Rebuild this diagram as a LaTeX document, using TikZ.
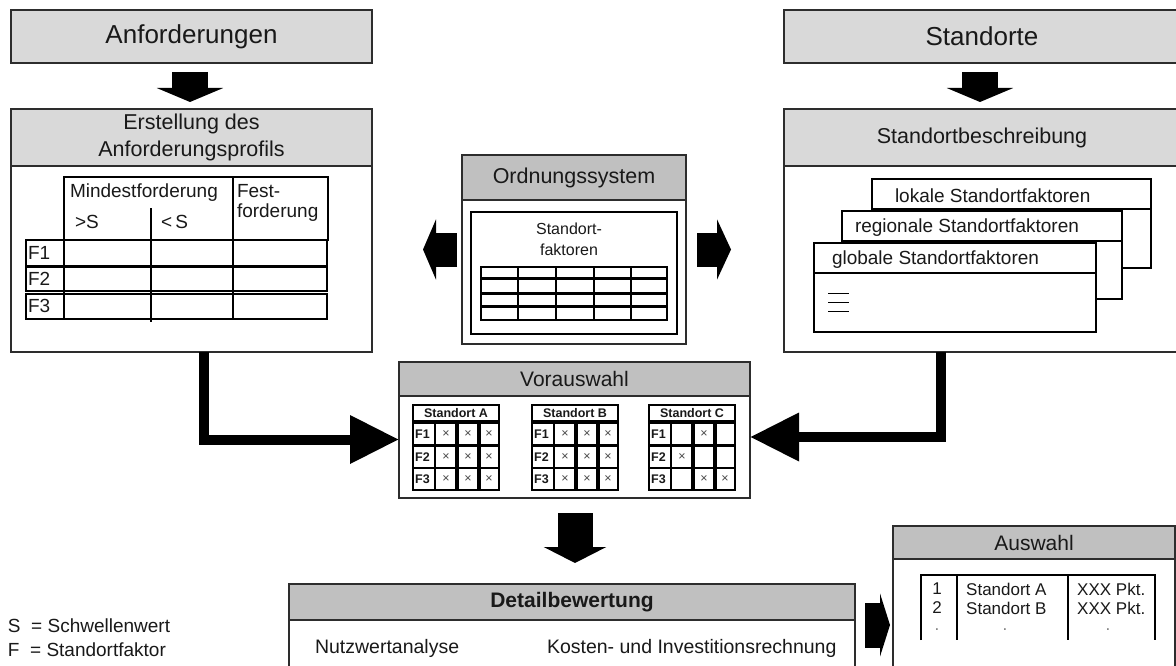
\documentclass[tikz,border=0pt]{standalone}
\usepackage{fontspec}
\setmainfont{Liberation Sans}
\usetikzlibrary{arrows.meta,calc}
\definecolor{hdrlight}{RGB}{217,217,217}
\definecolor{hdr}{RGB}{192,192,192}
\definecolor{frame}{RGB}{45,45,45}
\definecolor{ink}{RGB}{25,25,25}
\newcommand\fsz[2]{\fontsize{#1}{#2}\selectfont}
\begin{document}
\begin{tikzpicture}[x=1pt,y=-1pt,
  panel/.style={draw=frame,line width=1.3pt,fill=white,inner sep=0pt,outer sep=0pt,
                rectangle,anchor=north west,text=ink},
  header/.style={draw=frame,line width=1.3pt,fill=hdr,inner sep=0pt,outer sep=0pt,
                 rectangle,anchor=north,align=center,text=ink,font=\fsz{21.5}{27}},
  lbl/.style={inner sep=0pt,outer sep=0pt,anchor=west,text=ink},
  tbl/.style={draw=black,line width=1.2pt},
  rowbox/.style={draw=black,line width=1.7pt},
  card/.style={draw=black,line width=1.2pt,fill=white},
  vhead/.style={draw=black,line width=1.2pt,inner sep=0pt,outer sep=0pt,anchor=north west,
                minimum width=86pt,minimum height=16pt,font=\bfseries\fsz{12.5}{14},text=ink},
  vcell/.style={draw=black,line width=1.2pt},
  flab/.style={inner sep=0pt,anchor=west,font=\bfseries\fsz{12.5}{14},text=ink},
  xm/.style={inner sep=0pt,font=\fsz{12.5}{14},text=ink!80},
  blkdown/.style={line width=36pt,-{Triangle[length=14pt,width=66pt]}},
  blkside/.style={line width=34pt,-{Triangle[length=13pt,width=60pt]}},
  blkstub/.style={line width=45pt,-{Triangle[length=10pt,width=63pt]}},
  conn/.style={line width=10pt,line join=miter,-{Triangle[length=49pt,width=46pt]}}
]
\useasboundingbox (0,0) rectangle (1176,666);
\clip (0,0) rectangle (1176,666);
\fill[white] (0,0) rectangle (1176,666);

% ---- top boxes ----
\node[panel,fill=hdrlight,minimum width=361pt,minimum height=53pt,font=\fsz{26}{30}] (anf) at (11,10) {Anforderungen};
\node[panel,fill=hdrlight,minimum width=396pt,minimum height=53pt,font=\fsz{26}{30}] (sto) at (784,10) {Standorte};

% ---- requirement profile ----
\node[panel,minimum width=361pt,minimum height=243pt] (erst) at (11,109) {};
\node[header,fill=hdrlight,minimum width=361pt,minimum height=57pt] (erstH) at (erst.north) {Erstellung des\\Anforderungsprofils};
\draw[tbl] (64,177) rectangle (328,240);
\draw[tbl] (233,177) -- (233,319);
\draw[tbl] (151,208) -- (151,322);
\draw[rowbox] (26,240) rectangle (327,266);
\draw[rowbox] (26,267) rectangle (327,291);
\draw[rowbox] (26,294) rectangle (327,319);
\draw[tbl] (64,240) -- (64,319);
\begin{scope}[every node/.style={lbl,font=\fsz{19}{23}}]
  \node (tmin) at (70,193) {Mindestforderung};
  \node (tgt) at (75,222) {>S};
  \node (tlt) at (161,222) {<\,S};
  \node (tf1) at (237,191) {Fest-};
  \node (tf2) at (237,213) {forderung};
  \node (rf1) at (28,253) {F1};
  \node (rf2) at (28,279) {F2};
  \node (rf3) at (28,306) {F3};
\end{scope}

% ---- site description ----
\node[panel,minimum width=396pt,minimum height=243pt] (sb) at (784,109) {};
\node[header,fill=hdrlight,minimum width=396pt,minimum height=57pt] (sbH) at (sb.north) {Standortbeschreibung};
\draw[card] (872,179) rectangle (1151,268); \draw[card] (872,209) -- (1151,209);
\draw[card] (842,211) rectangle (1122,299); \draw[card] (842,241) -- (1122,241);
\draw[card] (814,243) rectangle (1096,332); \draw[card] (814,273) -- (1096,273);
\begin{scope}[every node/.style={lbl,font=\fsz{19}{23}}]
  \node (clok) at (895,196) {lokale Standortfaktoren};
  \node (creg) at (855,228) {regionale Standortfaktoren};
  \node (cglo) at (832,260) {globale Standortfaktoren};
\end{scope}
\foreach \yy in {293,302,311} \draw[line width=1pt,black] (828,\yy) -- (849,\yy);

% ---- ordering system ----
\node[panel,minimum width=224pt,minimum height=189pt] (ord) at (462,155) {};
\node[header,minimum width=224pt,minimum height=45pt] (ordH) at (ord.north) {Ordnungssystem};
\node[panel,draw=black,line width=1.2pt,minimum width=206pt,minimum height=122pt] (ordin) at (471,212) {};
\node[inner sep=0pt,align=center,font=\fsz{16}{21},text=ink] (sfak) at (569,239.5) {Standort-\\faktoren};
\foreach \ya/\yb in {267/278,279/293,294/306,307/320} {
  \draw[rowbox,line width=1.5pt] (481,\ya) rectangle (667,\yb);
  \foreach \xc in {518,556,594,631} \draw[rowbox,line width=1.5pt] (\xc,\ya) -- (\xc,\yb);
}

% ---- preselection ----
\node[panel,minimum width=351pt,minimum height=136pt] (vor) at (399,362) {};
\node[header,minimum width=351pt,minimum height=34pt,font=\fsz{21}{25}] (vorH) at (vor.north) {Vorauswahl};
\foreach \xo/\nm/\lab in {413/vA/A,532/vB/B,649/vC/C} {
  \node[vhead] (\nm) at (\xo,405) {Standort \lab};
  \foreach \r/\yo in {1/423,2/446,3/468} {
    \draw[vcell] (\xo,\yo) rectangle ++(43,22);
    \draw[vcell] (\xo+22,\yo) -- ++(0,22);
    \draw[vcell] (\xo+45,\yo) rectangle ++(20,22);
    \draw[vcell] (\xo+67,\yo) rectangle ++(19,22);
    \node[flab] (\nm f\r) at (\xo+2,\yo+11) {F\r};
  }
}
\foreach \xo in {413,532}
  \foreach \yo in {434,457,479}
    \foreach \dx in {33,55,76}
      \node[xm] (x\xo-\yo-\dx) at (\xo+\dx,\yo) {×};
\foreach \dx/\yo in {55/434,33/457,55/479,76/479}
  \node[xm] (xc\dx-\yo) at (649+\dx,\yo) {×};

% ---- detailed evaluation ----
\node[panel,minimum width=566pt,minimum height=100pt] (det) at (289,584) {};
\node[header,minimum width=566pt,minimum height=36pt,font=\bfseries\fsz{21}{25}] (detH) at (det.north) {Detailbewertung};
\node[lbl,font=\fsz{19.5}{23}] (nwa) at (315,648) {Nutzwertanalyse};
\node[lbl,font=\fsz{19.5}{23}] (kir) at (547,648) {Kosten- und Investitionsrechnung};

% ---- selection ----
\node[panel,minimum width=282pt,minimum height=150pt] (aus) at (893,526) {};
\node[header,minimum width=282pt,minimum height=33pt,font=\fsz{21}{25}] (ausH) at (aus.north) {Auswahl};
\draw[tbl] (921,640) -- (921,575) -- (1155,575) -- (1155,640);
\draw[tbl] (957,575) -- (957,640);
\draw[tbl] (1068,575) -- (1068,640);
\begin{scope}[every node/.style={inner sep=0pt,text=ink,font=\fsz{17}{19}}]
  \node (r1) at (937,589) {1};
  \node (r2) at (937,608) {2};
  \node[anchor=west] (sA) at (966,589) {Standort A};
  \node[anchor=west] (sB) at (966,608) {Standort B};
  \node[anchor=west] (pA) at (1077,589) {XXX Pkt.};
  \node[anchor=west] (pB) at (1077,608) {XXX Pkt.};
  \node[text=gray] (d1) at (937,630) {.};
  \node[text=gray] (d2) at (1005,630) {.};
  \node[text=gray] (d3) at (1108,630) {.};
\end{scope}

% ---- legend ----
\node[lbl,font=\fsz{19}{22}] (legS) at (8,626) {S~ = Schwellenwert};
\node[lbl,font=\fsz{19}{22}] (legF) at (8,650) {F~ = Standortfaktor};

% ---- block arrows ----
\draw[blkdown,shorten <=9pt,shorten >=7pt] (anf.south -| 190,0) -- (erst.north -| 190,0);
\draw[blkdown,shorten <=9pt,shorten >=7pt] (sto.south -| 980,0) -- (sb.north -| 980,0);
\draw[blkside,shorten <=5pt,shorten >=51pt] (ord.west) -- (erst.east |- ord.west);
\draw[blkside,-{Triangle[length=14pt,width=60pt]},shorten <=11pt,shorten >=53pt] (ord.east) -- (sb.west |- ord.east);
\draw[line width=35pt,-{Triangle[length=16pt,width=62pt]},shorten <=15pt,shorten >=21pt] (vor.south -| 575,0) -- (det.north -| 575,0);
\coordinate (ay) at (0,625);
\draw[blkstub,shorten <=10pt,shorten >=3pt] (det.east |- ay) -- (aus.west |- ay);

% ---- elbow connectors ----
\coordinate (lk) at (204,439.5);
\coordinate (rk) at (941,437);
\draw[conn] (erst.south -| lk) |- (vor.west |- lk);
\draw[conn] (sb.south -| rk) |- (vor.east |- rk);
\end{tikzpicture}
\end{document}
